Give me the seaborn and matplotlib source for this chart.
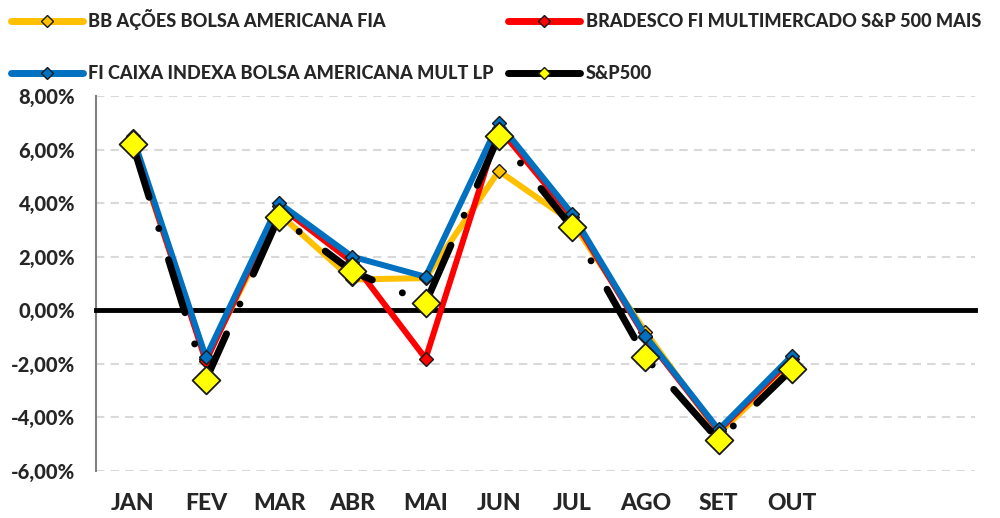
import matplotlib
matplotlib.use("Agg")
import matplotlib.pyplot as plt
import seaborn as sns
import pandas as pd
from matplotlib.lines import Line2D
from matplotlib.ticker import FuncFormatter, FixedLocator

months = ["JAN", "FEV", "MAR", "ABR", "MAI", "JUN", "JUL", "AGO", "SET", "OUT"]
n_slots = 12  # axis has room for 12 months

bb_acoes = [6.3, -1.8, 3.6, 1.15, 1.2, 5.2, 3.3, -0.8, -4.6, -2.0]
bradesco = [6.4, -1.9, 3.9, 1.8, -1.8, 6.8, 3.5, -1.0, -4.5, -1.8]
caixa = [6.5, -1.75, 4.0, 2.0, 1.25, 7.0, 3.6, -0.95, -4.45, -1.7]
sp500 = [6.2, -2.6, 3.5, 1.45, 0.28, 6.5, 3.1, -1.75, -4.85, -2.2]

names = ["BB AÇÕES BOLSA AMERICANA FIA", "BRADESCO FI MULTIMERCADO S&P 500 MAIS",
         "FI CAIXA INDEXA BOLSA AMERICANA MULT LP", "S&P500"]
colors = ["#FFC000", "#FF0000", "#0070C0", "#000000"]

sns.set_style("white")
plt.rcParams["font.family"] = ["Lato", "DejaVu Sans"]
plt.rcParams["font.weight"] = 900
W = 900

fig = plt.figure(figsize=(10, 5.18), dpi=100)
ax = fig.add_axes([0.096, 0.0907, 0.879, 0.724])

x = list(range(len(months)))
series = [bb_acoes, bradesco, caixa]
for i, (vals, c) in enumerate(zip(series, colors[:3])):
    df = pd.DataFrame({"x": x, "y": vals})
    sns.lineplot(data=df, x="x", y="y", ax=ax, color=c, linewidth=4.3,
                 marker="D", markersize=7.5, markerfacecolor=c,
                 markeredgecolor="#1a1a1a", markeredgewidth=1.0,
                 zorder=3 + i, sort=False)

df = pd.DataFrame({"x": x, "y": sp500})
sns.lineplot(data=df, x="x", y="y", ax=ax, color="black", linewidth=5.0,
             zorder=7, sort=False, dashes=False)
ln = ax.lines[-1]
ln.set_dashes((8.0, 4.7, 0.01, 4.7))
ln.set_dash_capstyle("round")
sns.scatterplot(data=df, x="x", y="y", ax=ax, marker="D", s=200,
                color="#FFFF00", edgecolor="#1a1a1a", linewidth=1.3, zorder=8)

ax.set_xlim(-0.5, n_slots - 0.5)
ax.set_ylim(-6, 8)
ax.set_xlabel("")
ax.set_ylabel("")

# y axis
ax.set_yticks(range(-6, 9, 2))
ax.yaxis.set_major_formatter(FuncFormatter(lambda v, p: f"{v:.2f}%".replace(".", ",")))
ax.tick_params(axis="y", length=6, width=1.2, color="#808080", labelsize=14.5, pad=9)
for lab in ax.get_yticklabels():
    lab.set_fontweight(W)
ax.grid(axis="y", color="#D9D9D9", linestyle=(0, (4, 3)), linewidth=1.5)
ax.grid(axis="x", visible=False)
for s in ["top", "right"]:
    ax.spines[s].set_visible(False)
ax.spines["left"].set_color("#808080")
ax.spines["left"].set_linewidth(1.5)

# zero axis with category boundary ticks
ax.spines["bottom"].set_position(("data", 0))
ax.spines["bottom"].set_linewidth(3.5)
ax.spines["bottom"].set_color("black")
ax.spines["bottom"].set_zorder(2.5)
ax.xaxis.set_major_locator(FixedLocator([i - 0.5 for i in range(n_slots + 1)]))
ax.tick_params(axis="x", length=4, width=3, color="black", labelbottom=False, direction="out")

# month labels at bottom
sec = ax.secondary_xaxis(0.0)
sec.set_xticks(x)
sec.set_xticklabels(months, fontsize=16.5, fontweight=W)
sec.tick_params(length=0, pad=16)
sec.spines["bottom"].set_visible(False)

handles = []
for nm, c in zip(names, colors):
    mfc = "#FFFF00" if c == "#000000" else c
    handles.append(Line2D([0], [0], color=c, linewidth=5, marker="D", markersize=6,
                          markerfacecolor=mfc, markeredgecolor="#1a1a1a",
                          markeredgewidth=1.0, solid_capstyle="round"))
order = [0, 2, 1, 3]
fig.legend([handles[i] for i in order], [names[i] for i in order],
           loc="upper left", bbox_to_anchor=(0.0, 1.003), ncol=2, frameon=False,
           prop={"size": 13.1, "weight": W}, handlelength=3.95, handletextpad=0.3,
           columnspacing=0.8, labelspacing=1.92, borderaxespad=0.2)

fig.savefig("out.png", dpi=100)
